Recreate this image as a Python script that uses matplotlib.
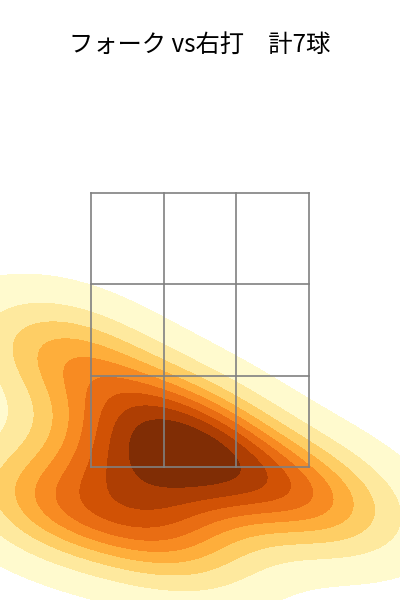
import numpy as np
import matplotlib.pyplot as plt
import seaborn as sns

plt.rcParams['font.family'] = ['Noto Sans CJK JP', 'DejaVu Sans']

# pitch locations (zone units: x -1..1 across, y 0..3 bottom to top)
plate_x = [-1.24, -1.38, -0.69, -0.23, 0.23, 1.10, -0.32]
plate_z = [1.23, -0.42, 0.08, 0.54, 0.02, -0.36, -0.75]

title = 'フォーク vs右打\u3000計7球'

fig = plt.figure(figsize=(4, 6), dpi=100)
ax = fig.add_axes([0, 0, 1, 0.9])

sns.kdeplot(x=plate_x, y=plate_z, fill=True, cmap='YlOrBr', levels=10, thresh=0.05, ax=ax)

# strike zone 3x3 grid
for xv in [-1, -1/3, 1/3, 1]:
    ax.plot([xv, xv], [0, 3], color='gray', lw=1.2, zorder=5)
for yv in [0, 1, 2, 3]:
    ax.plot([-1, 1], [yv, yv], color='gray', lw=1.2, zorder=5)

ax.set_xlim(-200/109, 200/109)
ax.set_ylim(-1.456, 4.456)
ax.axis('off')

fig.suptitle(title, fontsize=17.5, y=0.947)
fig.savefig('out.png', dpi=100)
